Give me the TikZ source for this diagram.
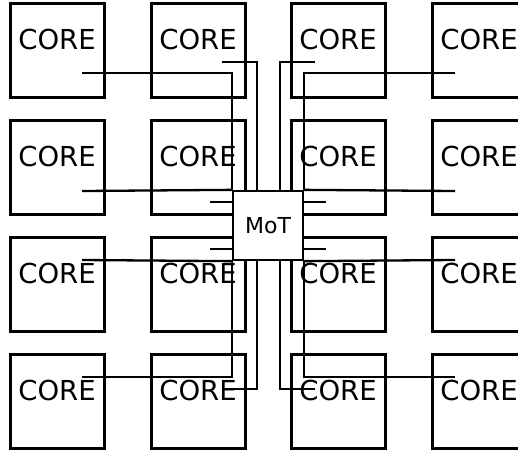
\documentclass[tikz,border=0pt]{standalone}
\usepackage{fontspec}
\setmainfont{DejaVu Sans}
\usepackage{tikz}

\begin{document}
\begin{tikzpicture}[x=1pt, y=-1pt,
        corebox/.style={draw, line width=3pt, minimum size=94pt, inner sep=0pt,
            text height=0pt, text depth=2pt, font=\fontsize{27.5}{30}\selectfont},
        motbox/.style={draw, fill=white, line width=2.3pt, minimum width=70pt,
            minimum height=69pt, inner sep=0pt, font=\fontsize{22}{24}\selectfont},
        wire/.style={line width=2.3pt}]
        \useasboundingbox (0,0) rectangle (518,450);

        % 核心
        \node[corebox] (c11) at (57,50) {CORE};
        \node[corebox] (c12) at (198,50) {CORE};
        \node[corebox] (c13) at (338,50) {CORE};
        \node[corebox] (c14) at (479,50) {CORE};
        \node[corebox] (c21) at (57,167) {CORE};
        \node[corebox] (c22) at (198,167) {CORE};
        \node[corebox] (c23) at (338,167) {CORE};
        \node[corebox] (c24) at (479,167) {CORE};
        \node[corebox] (c31) at (57,284) {CORE};
        \node[corebox] (c32) at (198,284) {CORE};
        \node[corebox] (c33) at (338,284) {CORE};
        \node[corebox] (c34) at (479,284) {CORE};
        \node[corebox] (c41) at (57,401) {CORE};
        \node[corebox] (c42) at (198,401) {CORE};
        \node[corebox] (c43) at (338,401) {CORE};
        \node[corebox] (c44) at (479,401) {CORE};

        % MoT
        \node[motbox] (mot) at (268,225.5) {MoT};

        % 连线
        \draw[wire] ([xshift=25pt, yshift=-23pt]c11.center) -| (mot.north west);
        \draw[wire] ([xshift=24pt, yshift=-12pt]c12.center) -| ([xshift=-11pt]mot.north);
        \draw[wire] ([xshift=-23pt, yshift=-12pt]c13.center) -| ([xshift=12pt]mot.north);
        \draw[wire] ([xshift=-24pt, yshift=-23pt]c14.center) -| (mot.north east);
        \draw[wire] ([xshift=25pt, yshift=-24pt]c21.center) -- (mot.north west);
        \draw[wire] ([xshift=12pt, yshift=-35pt]c22.center) -- ([yshift=23.5pt]mot.west);
        \draw[wire] ([xshift=-12pt, yshift=-35pt]c23.center) -- ([yshift=23.5pt]mot.east);
        \draw[wire] ([xshift=-24pt, yshift=-24pt]c24.center) -- (mot.north east);
        \draw[wire] ([xshift=25pt, yshift=24pt]c31.center) -- (mot.south west);
        \draw[wire] ([xshift=12pt, yshift=35pt]c32.center) -- ([yshift=-23.5pt]mot.west);
        \draw[wire] ([xshift=-12pt, yshift=35pt]c33.center) -- ([yshift=-23.5pt]mot.east);
        \draw[wire] ([xshift=-24pt, yshift=24pt]c34.center) -- (mot.south east);
        \draw[wire] ([xshift=25pt, yshift=24pt]c41.center) -| (mot.south west);
        \draw[wire] ([xshift=24pt, yshift=12pt]c42.center) -| ([xshift=-11pt]mot.south);
        \draw[wire] ([xshift=-23pt, yshift=12pt]c43.center) -| ([xshift=12pt]mot.south);
        \draw[wire] ([xshift=-24pt, yshift=24pt]c44.center) -| (mot.south east);
\end{tikzpicture}
\end{document}
